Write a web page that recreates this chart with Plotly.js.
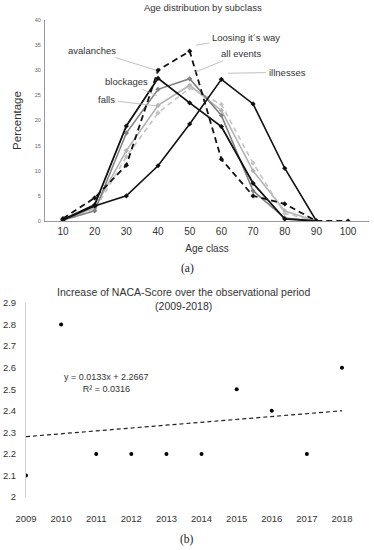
<!DOCTYPE html>
<html>
<head>
<meta charset="utf-8">
<script src="https://cdn.plot.ly/plotly-3.0.1.min.js"></script>
<style>html,body{margin:0;padding:0;background:#fff;}#chart{width:374px;height:550px;}</style>
</head>
<body>
<div id="chart"></div>
<script>
// ---- Chart (a): age distribution by subclass ----
const ageClasses = [10, 20, 30, 40, 50, 60, 70, 80, 90, 100];
const loosingWay = [0.5, 4.6, 11.1, 30.0, 33.8, 12.3, 5.0, 3.4, 0, 0];
const avalanches = [0.3, 3.2, 18.9, 28.4, 23.5, 18.8, 7.5, 0.4, 0, null];
const illnesses = [0.2, 3.0, 5.0, 11.0, 19.3, 28.2, 23.3, 10.5, 0, null];
const blockages = [0.2, 2.0, 17.5, 26.2, 28.3, 21.0, 6.0, 0.6, 0, null];
const allEvents = [0.2, 2.6, 14.0, 23.0, 27.0, 22.0, 10.0, 2.0, 0, null];
const falls = [0.0, 2.2, 12.8, 21.5, 26.5, 23.2, 11.5, 1.5, 0, null];

// ---- Chart (b): NACA score per year ----
const years = [2009, 2010, 2011, 2012, 2013, 2014, 2015, 2016, 2017, 2018];
const nacaScore = [2.1, 2.8, 2.2, 2.2, 2.2, 2.2, 2.5, 2.4, 2.2, 2.6];
const trendYears = [2009, 2018];
const trendValues = [2.28, 2.40];

const W = 374, H = 550;
const px = v => v / W;
const py = v => 1 - v / H;

function line(name, y, color, width, dash) {
  return {
    type: 'scatter', mode: 'lines+markers', name: name,
    x: ageClasses, y: y, xaxis: 'x', yaxis: 'y',
    line: {color: color, width: width, dash: dash},
    marker: {color: color, size: 4, symbol: 'diamond'},
    showlegend: false, connectgaps: false
  };
}

const traces = [
  line('all events', allEvents, '#b3b3b3', 1.6, 'solid'),
  line('falls', falls, '#c4c4c4', 1.6, '5px,4px'),
  line('blockages', blockages, '#808080', 1.6, 'solid'),
  line('illnesses', illnesses, '#111111', 1.6, 'solid'),
  line('avalanches', avalanches, '#111111', 1.8, 'solid'),
  line('Loosing it´s way', loosingWay, '#111111', 1.8, '6px,4px'),
  {
    type: 'scatter', mode: 'markers', name: 'NACA',
    x: years, y: nacaScore, xaxis: 'x2', yaxis: 'y2',
    marker: {color: '#000', size: 4}, showlegend: false
  },
  {
    type: 'scatter', mode: 'lines', name: 'trend',
    x: trendYears, y: trendValues, xaxis: 'x2', yaxis: 'y2',
    line: {color: '#222', width: 1.2, dash: '4px,3px'}, showlegend: false
  }
];

const font = 'Liberation Sans, Arial, sans-serif';
const txt = '#333';

function label(text, tipX, tipY, ax, ay) {
  return {
    xref: 'x', yref: 'y', x: tipX, y: tipY, text: text,
    showarrow: true, arrowhead: 0, arrowwidth: 0.8, arrowcolor: '#b0b0b0',
    ax: ax, ay: ay, standoff: 0, startstandoff: 1,
    font: {family: font, size: 9.5, color: '#333333'}
  };
}

const layout = {
  width: W, height: H, autosize: false,
  margin: {l: 0, r: 0, t: 0, b: 0},
  paper_bgcolor: '#fff', plot_bgcolor: 'rgba(0,0,0,0)',
  font: {family: font, color: txt},
  xaxis: {
    domain: [px(45), px(369)], range: [4.32, 106.6], anchor: 'y',
    tickvals: ageClasses, ticktext: ageClasses.map(String),
    showgrid: false, zeroline: false, showline: true, linecolor: '#999', linewidth: 1,
    ticks: '', tickfont: {size: 10, color: txt}, ticklabelstandoff: 1,
    title: {text: 'Age class', font: {size: 10, color: txt}, standoff: 8}
  },
  yaxis: {
    domain: [py(221), py(20)], range: [0, 40], anchor: 'x',
    dtick: 5, showgrid: false, zeroline: false, showline: true, linecolor: '#999', linewidth: 1,
    ticks: '', tickfont: {size: 5.5, color: '#666'}, ticklabelstandoff: 2,
    title: {text: 'Percentage', font: {size: 11.5, color: txt}, standoff: 10}
  },
  xaxis2: {
    domain: [px(26), px(352)], range: [2009, 2018.285], anchor: 'y2',
    tickvals: years, ticktext: years.map(String),
    showgrid: false, zeroline: false, showline: false,
    ticks: '', tickfont: {size: 9.5, color: txt}, ticklabelstandoff: 14
  },
  yaxis2: {
    domain: [py(497), py(303)], range: [2, 2.9], anchor: 'x2',
    dtick: 0.1, showgrid: false, zeroline: false,
    showline: true, linecolor: '#d0d0d0', linewidth: 1,
    ticks: '', tickfont: {size: 9.5, color: txt}, ticklabelstandoff: 7
  },
  annotations: [
    {xref: 'paper', yref: 'paper', x: px(203), y: py(8), xanchor: 'center', yanchor: 'middle',
     text: 'Age distribution by subclass', showarrow: false, font: {size: 9.5, color: txt}},
    label('avalanches', 39.4, 30.0, -64, -20),
    label('blockages', 39.7, 24.9, -31, -14),
    label('falls', 39.6, 22.9, -50, -6),
    label('Loosing it´s way', 52.0, 35.0, 50, -8),
    label('all events', 51.7, 29.6, 46, -19),
    label('illnesses', 62.1, 29.4, 59, -1),
    {xref: 'paper', yref: 'paper', x: px(187), y: py(268), xanchor: 'center', yanchor: 'middle',
     text: '(a)', showarrow: false, font: {family: 'Liberation Serif, serif', size: 11.5, color: '#222'}},
    {xref: 'paper', yref: 'paper', x: px(183), y: py(299), xanchor: 'center', yanchor: 'middle',
     text: 'Increase of NACA-Score over the observational period<br>(2009-2018)', showarrow: false,
     font: {size: 10.5, color: txt}},
    {xref: 'paper', yref: 'paper', x: px(107), y: py(383), xanchor: 'center', yanchor: 'middle',
     text: 'y = 0.0133x + 2.2667<br>R² = 0.0316', showarrow: false, font: {size: 9, color: txt}},
    {xref: 'paper', yref: 'paper', x: px(187), y: py(539), xanchor: 'center', yanchor: 'middle',
     text: '(b)', showarrow: false, font: {family: 'Liberation Serif, serif', size: 11.5, color: '#222'}}
  ]
};

Plotly.newPlot('chart', traces, layout, {displayModeBar: false, staticPlot: true});
</script>
</body>
</html>
